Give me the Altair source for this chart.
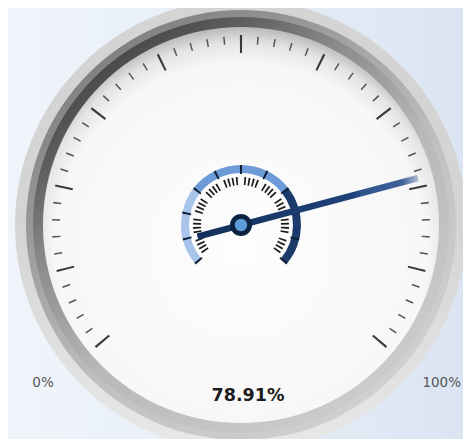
import math
import altair as alt
import pandas as pd

# ---------------- data ----------------
gauge_value = 78.91
scale_min = 0
scale_max = 100
major_ticks = [0, 10, 20, 30, 40, 50, 60, 70, 80, 90, 100]
minor_ticks = [v for v in range(0, 101, 2) if v % 10 != 0]
band_start = [0, 30, 70]
band_end = [30, 70, 100]
band_colors = ["#a8c4ea", "#6c9bd8", "#1c3b6b"]
min_label = "0%"
max_label = "100%"
value_text = "78.91%"

# ---------------- geometry ----------------
W, H = 455, 431
CX, CY = 233, 217
SWEEP = math.radians(130)
FONT = "DejaVu Sans"

theta_scale = alt.Scale(domain=[scale_min, scale_max], range=[-SWEEP, SWEEP], nice=False, zero=False)
xs = alt.Scale(domain=[0, W], nice=False, zero=False)
ys = alt.Scale(domain=[0, H], reverse=True, nice=False, zero=False)

one = pd.DataFrame({"k": [0]})


def lin(stops, x1=0, y1=0, x2=0, y2=1):
    return {"gradient": "linear", "x1": x1, "y1": y1, "x2": x2, "y2": y2,
            "stops": [{"offset": o, "color": c} for o, c in stops]}


def disk(r_out, r_in, fill):
    return alt.Chart(one).mark_arc(fill=fill, strokeWidth=0).encode(
        theta=alt.value(0), theta2=alt.value(2 * math.pi),
        radius=alt.value(r_out), radius2=alt.value(r_in),
        x=alt.value(CX), y=alt.value(CY))


def tick_layer(values, r_out, r_in, half_w, color):
    df = pd.DataFrame({"v": values})
    return alt.Chart(df).transform_calculate(
        t1=f"datum.v - {half_w}", t2=f"datum.v + {half_w}"
    ).mark_arc(fill=color, strokeWidth=0).encode(
        theta=alt.Theta("t1:Q", scale=theta_scale, stack=None),
        theta2="t2:Q",
        radius=alt.value(r_out), radius2=alt.value(r_in),
        x=alt.value(CX), y=alt.value(CY))


background = alt.Chart(one).mark_rect(
    fill=lin([(0, "#f0f5fb"), (1, "#dbe5f2")], 0, 0, 1, 0), strokeWidth=0
).encode(x=alt.value(0), x2=alt.value(W), y=alt.value(0), y2=alt.value(H))

rim_outer = disk(226, 0, lin([(0, "#d4d4d4"), (0.5, "#d4d4d4"), (1, "#e8e8e8")]))
rim_mid = disk(215, 0, lin([(0, "#7a7a7a"), (0.3, "#a0a0a0"), (0.6, "#c2c2c2"), (1, "#d4d4d4")], 0.15, 0.05, 0.85, 1))
rim_inner = disk(208, 0, lin([(0, "#3e3e3e"), (0.15, "#5e5e5e"), (0.3, "#8a8a8a"),
                              (0.55, "#b8b8b8"), (1, "#d0d0d0")], 0.15, 0.05, 0.85, 1))
face = disk(198, 0, {"gradient": "radial", "x1": 0.5, "y1": 0.56, "r1": 0,
                     "x2": 0.5, "y2": 0.56, "r2": 0.56,
                     "stops": [{"offset": 0, "color": "#fdfdfd"},
                               {"offset": 0.84, "color": "#f7f7f7"},
                               {"offset": 0.93, "color": "#e4e4e4"},
                               {"offset": 1, "color": "#b8b8b8"}]})

outer_major = tick_layer(major_ticks, 190, 172, 0.13, "#3a3a3a")
outer_minor = tick_layer(minor_ticks, 189, 181, 0.09, "#555555")

band_df = pd.DataFrame({"s": band_start, "e": band_end, "c": band_colors})
bands = alt.Chart(band_df).mark_arc(strokeWidth=0).encode(
    theta=alt.Theta("s:Q", scale=theta_scale, stack=None),
    theta2="e:Q",
    fill=alt.Fill("c:N", scale=None, legend=None),
    radius=alt.value(60), radius2=alt.value(52),
    x=alt.value(CX), y=alt.value(CY))

band_ticks = tick_layer(major_ticks, 60, 51, 0.4, "#0f1f36")
inner_minor = tick_layer(minor_ticks, 48, 40, 0.42, "#1a1a1a")

needle_df = pd.DataFrame({"v": [gauge_value]})
needle_grad = lin([(0, "#15315c"), (0.71, "#1e4279"), (0.74, "#2d528b"),
                   (0.93, "#3f6399"), (1, "#aebcd2")], 0, 0, 1, 0)
needle = alt.Chart(needle_df).transform_calculate(
    a=f"(datum.v - {scale_min}) / ({scale_max} - {scale_min}) * {2 * SWEEP} - {SWEEP}"
).transform_calculate(
    xa=f"{CX} - 45 * sin(datum.a)", ya=f"{CY} + 45 * cos(datum.a)",
    xb=f"{CX} + 183 * sin(datum.a)", yb=f"{CY} - 183 * cos(datum.a)"
).mark_rule(stroke=needle_grad, strokeWidth=6.5, strokeCap="butt").encode(
    x=alt.X("xa:Q", scale=xs, axis=None), y=alt.Y("ya:Q", scale=ys, axis=None),
    x2="xb:Q", y2="yb:Q")

hub_outer = disk(11, 0, "#0d2342")
hub_inner = disk(6.2, 0, "#5e9ed8")

min_df = pd.DataFrame({"t": [min_label]})
max_df = pd.DataFrame({"t": [max_label]})
min_text = alt.Chart(min_df).mark_text(
    font=FONT, fontSize=13.5, color="#555555", align="center", baseline="middle"
).encode(x=alt.value(35), y=alt.value(375), text="t:N")
max_text = alt.Chart(max_df).mark_text(
    font=FONT, fontSize=13.5, color="#555555", align="right", baseline="middle"
).encode(x=alt.value(W - 2), y=alt.value(375), text="t:N")

val_df = pd.DataFrame({"t": [value_text]})
val_text = alt.Chart(val_df).mark_text(
    font=FONT, fontSize=17.5, fontWeight="bold", color="#1c1c1c", align="center", baseline="middle"
).encode(x=alt.value(CX + 7), y=alt.value(CY + 171), text="t:N")

chart = alt.layer(
    background, rim_outer, rim_mid, rim_inner, face,
    outer_minor, outer_major, bands, band_ticks, inner_minor,
    needle, hub_outer, hub_inner, min_text, max_text, val_text
).properties(
    width=W, height=H, padding=0, background="#e8eef7",
    autosize=alt.AutoSizeParams(type="none")
).configure_view(strokeWidth=0)

chart.save("out.html", embed_options={"renderer": "svg", "actions": False})
